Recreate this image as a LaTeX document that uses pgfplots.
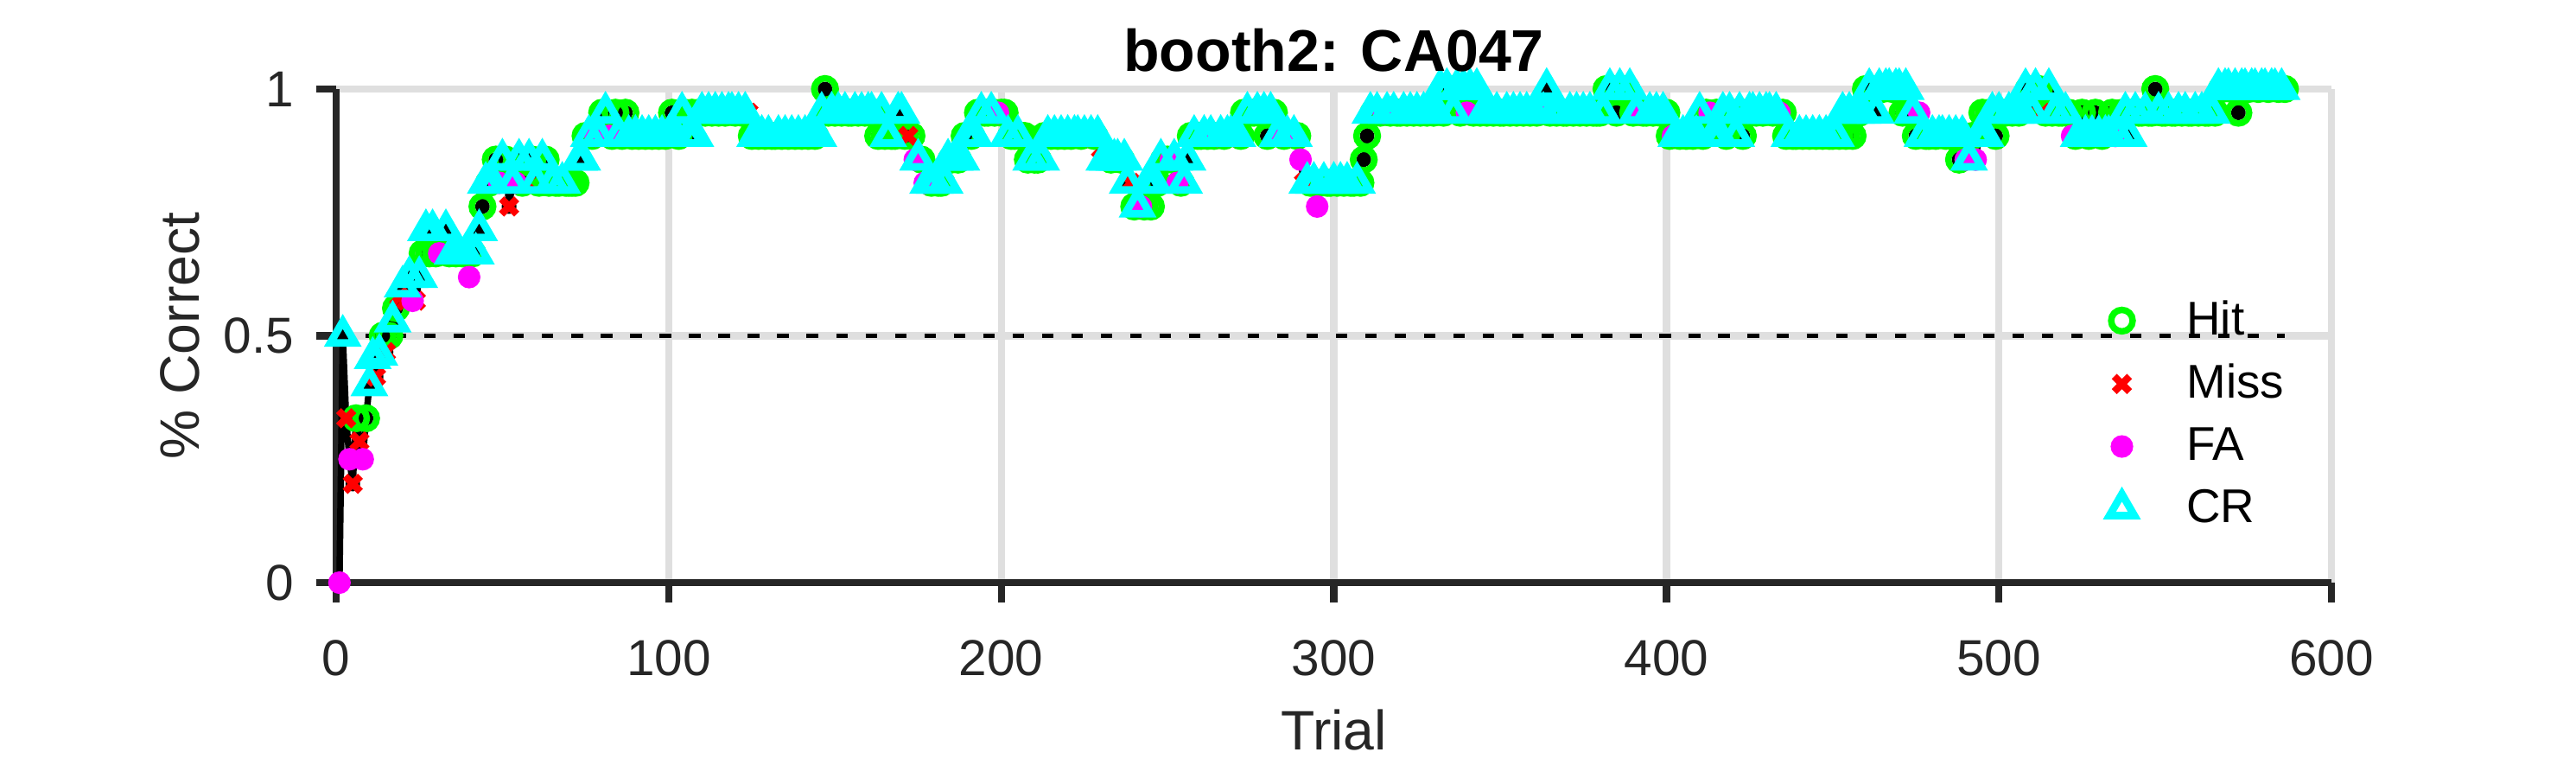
\documentclass[border=0pt]{standalone}
\usepackage{fontspec}
\setmainfont{Liberation Sans}
\usepackage{pgfplots}
\pgfplotsset{compat=1.18}
\usepackage{pgfplotstable}
\definecolor{axgray}{HTML}{262626}
\definecolor{gridgray}{HTML}{DFDFDF}
\definecolor{hitc}{rgb}{0,1,0}
\definecolor{missc}{rgb}{1,0,0}
\definecolor{fac}{rgb}{1,0,1}
\definecolor{crc}{rgb}{0,1,1}
% t: 0 = Hit, 1 = Miss, 2 = FA, 3 = CR
\pgfplotstableread[row sep=\\]{
x y t\\
1 0 2\\ 2 0.5 3\\ 3 0.333 1\\ 4 0.25 2\\ 5 0.2 1\\ 6 0.333 0\\ 7 0.286 1\\ 8 0.25 2\\ 9 0.333 0\\ 10 0.4 3\\
11 0.455 3\\ 12 0.417 1\\ 13 0.462 3\\ 14 0.5 0\\ 15 0.467 1\\ 16 0.5 0\\ 17 0.529 3\\ 18 0.556 0\\ 19 0.579 1\\ 20 0.6 3\\
21 0.571 1\\ 22 0.619 3\\ 23 0.571 2\\ 24 0.571 1\\ 25 0.619 3\\ 26 0.667 0\\ 27 0.714 3\\ 28 0.667 0\\ 29 0.714 3\\ 30 0.667 0\\
31 0.667 2\\ 32 0.667 1\\ 33 0.714 3\\ 34 0.667 0\\ 35 0.667 3\\ 36 0.667 0\\ 37 0.667 3\\ 38 0.667 0\\ 39 0.667 3\\ 40 0.619 2\\
41 0.667 0\\ 42 0.667 3\\ 43 0.714 3\\ 44 0.762 0\\ 45 0.810 3\\ 46 0.810 0\\ 47 0.810 3\\ 48 0.857 0\\ 49 0.810 2\\ 50 0.857 3\\
51 0.857 0\\ 52 0.762 1\\ 53 0.810 3\\ 54 0.810 2\\ 55 0.857 3\\ 56 0.810 0\\ 57 0.810 1\\ 58 0.857 3\\ 59 0.857 0\\ 60 0.810 3\\
61 0.810 0\\ 62 0.857 3\\ 63 0.857 0\\ 64 0.810 0\\ 65 0.810 3\\ 66 0.810 0\\ 67 0.810 0\\ 68 0.810 3\\ 69 0.810 0\\ 70 0.810 0\\
71 0.810 0\\ 72 0.810 0\\ 73 0.857 3\\ 74 0.857 3\\ 75 0.905 0\\ 76 0.905 3\\ 77 0.905 0\\ 78 0.905 2\\ 79 0.905 3\\ 80 0.952 0\\
81 0.952 3\\ 82 0.905 2\\ 83 0.905 0\\ 84 0.952 0\\ 85 0.905 3\\ 86 0.905 0\\ 87 0.952 0\\ 88 0.905 3\\ 89 0.905 0\\ 90 0.905 3\\
91 0.905 0\\ 92 0.905 3\\ 93 0.905 0\\ 94 0.905 3\\ 95 0.905 0\\ 96 0.905 3\\ 97 0.905 0\\ 98 0.905 3\\ 99 0.905 0\\ 100 0.905 3\\
101 0.952 0\\ 102 0.905 3\\ 103 0.905 0\\ 104 0.952 3\\ 105 0.952 0\\ 106 0.905 3\\ 107 0.952 0\\ 108 0.905 3\\ 109 0.952 0\\ 110 0.952 3\\
111 0.952 0\\ 112 0.952 3\\ 113 0.952 0\\ 114 0.952 3\\ 115 0.952 0\\ 116 0.952 3\\ 117 0.952 0\\ 118 0.952 3\\ 119 0.952 3\\ 120 0.952 0\\
121 0.952 3\\ 122 0.952 0\\ 123 0.952 3\\ 124 0.952 1\\ 125 0.905 0\\ 126 0.905 3\\ 127 0.905 0\\ 128 0.905 3\\ 129 0.905 0\\ 130 0.905 3\\
131 0.905 0\\ 132 0.905 0\\ 133 0.905 3\\ 134 0.905 0\\ 135 0.905 3\\ 136 0.905 0\\ 137 0.905 3\\ 138 0.905 0\\ 139 0.905 3\\ 140 0.905 0\\
141 0.905 3\\ 142 0.905 0\\ 143 0.905 3\\ 144 0.905 0\\ 145 0.905 3\\ 146 0.952 3\\ 147 1 0\\ 148 0.952 0\\ 149 0.952 3\\ 150 0.952 0\\
151 0.952 3\\ 152 0.952 0\\ 153 0.952 3\\ 154 0.952 0\\ 155 0.952 0\\ 156 0.952 3\\ 157 0.952 0\\ 158 0.952 3\\ 159 0.952 0\\ 160 0.952 3\\
161 0.952 3\\ 162 0.952 0\\ 163 0.905 0\\ 164 0.952 3\\ 165 0.905 0\\ 166 0.905 3\\ 167 0.905 0\\ 168 0.905 0\\ 169 0.952 3\\ 170 0.952 3\\
171 0.905 0\\ 172 0.905 1\\ 173 0.905 0\\ 174 0.857 2\\ 175 0.857 3\\ 176 0.857 0\\ 177 0.810 2\\ 178 0.810 3\\ 179 0.810 0\\ 180 0.810 3\\
181 0.810 0\\ 182 0.810 0\\ 183 0.810 3\\ 184 0.857 3\\ 185 0.857 0\\ 186 0.857 3\\ 187 0.857 0\\ 188 0.857 3\\ 189 0.905 0\\ 190 0.905 3\\
191 0.905 0\\ 192 0.905 3\\ 193 0.952 0\\ 194 0.952 3\\ 195 0.952 0\\ 196 0.952 0\\ 197 0.952 3\\ 198 0.952 0\\ 199 0.952 2\\ 200 0.952 0\\
201 0.952 0\\ 202 0.905 3\\ 203 0.905 0\\ 204 0.905 0\\ 205 0.905 3\\ 206 0.905 0\\ 207 0.905 0\\ 208 0.857 0\\ 209 0.857 3\\ 210 0.857 0\\
211 0.857 0\\ 212 0.857 3\\ 213 0.905 0\\ 214 0.905 3\\ 215 0.905 0\\ 216 0.905 3\\ 217 0.905 0\\ 218 0.905 3\\ 219 0.905 0\\ 220 0.905 3\\
221 0.905 0\\ 222 0.905 3\\ 223 0.905 3\\ 224 0.905 0\\ 225 0.905 3\\ 226 0.905 2\\ 227 0.905 3\\ 228 0.905 0\\ 229 0.905 3\\ 230 0.857 1\\
231 0.857 3\\ 232 0.857 3\\ 233 0.857 0\\ 234 0.857 3\\ 235 0.857 3\\ 236 0.857 0\\ 237 0.857 3\\ 238 0.810 3\\ 239 0.810 1\\ 240 0.762 0\\
241 0.762 3\\ 242 0.762 2\\ 243 0.762 0\\ 244 0.810 3\\ 245 0.762 0\\ 246 0.810 3\\ 247 0.810 0\\ 248 0.857 3\\ 249 0.857 0\\ 250 0.857 0\\
251 0.857 2\\ 252 0.857 3\\ 253 0.810 2\\ 254 0.810 0\\ 255 0.810 3\\ 256 0.857 3\\ 257 0.905 0\\ 258 0.905 3\\ 259 0.905 0\\ 260 0.905 0\\
261 0.905 3\\ 262 0.905 0\\ 263 0.905 3\\ 264 0.905 0\\ 265 0.905 2\\ 266 0.905 3\\ 267 0.905 0\\ 268 0.905 3\\ 269 0.905 3\\ 270 0.905 2\\
271 0.905 3\\ 272 0.905 0\\ 273 0.952 0\\ 274 0.952 3\\ 275 0.952 0\\ 276 0.952 0\\ 277 0.952 3\\ 278 0.952 0\\ 279 0.952 3\\ 280 0.905 0\\
281 0.952 3\\ 282 0.952 0\\ 283 0.905 3\\ 284 0.905 2\\ 285 0.905 0\\ 286 0.905 3\\ 287 0.905 2\\ 288 0.905 3\\ 289 0.905 0\\ 290 0.857 2\\
291 0.810 1\\ 292 0.810 3\\ 293 0.810 0\\ 294 0.810 3\\ 295 0.762 2\\ 296 0.810 0\\ 297 0.810 3\\ 298 0.810 0\\ 299 0.810 0\\ 300 0.810 3\\
301 0.810 0\\ 302 0.810 3\\ 303 0.810 0\\ 304 0.810 3\\ 305 0.810 0\\ 306 0.810 0\\ 307 0.810 3\\ 308 0.810 0\\ 309 0.857 0\\ 310 0.905 0\\
311 0.952 3\\ 312 0.952 0\\ 313 0.952 3\\ 314 0.952 0\\ 315 0.952 2\\ 316 0.952 3\\ 317 0.952 0\\ 318 0.952 3\\ 319 0.952 0\\ 320 0.952 0\\
321 0.952 3\\ 322 0.952 0\\ 323 0.952 3\\ 324 0.952 0\\ 325 0.952 3\\ 326 0.952 0\\ 327 0.952 3\\ 328 0.952 0\\ 329 0.952 3\\ 330 0.952 0\\
331 0.952 3\\ 332 1 3\\ 333 0.952 0\\ 334 1 3\\ 335 1 0\\ 336 0.952 3\\ 337 1 3\\ 338 0.952 0\\ 339 1 3\\ 340 0.952 2\\
341 1 3\\ 342 0.952 0\\ 343 1 3\\ 344 0.952 0\\ 345 0.952 3\\ 346 0.952 0\\ 347 0.952 3\\ 348 0.952 0\\ 349 0.952 3\\ 350 0.952 0\\
351 0.952 0\\ 352 0.952 3\\ 353 0.952 0\\ 354 0.952 3\\ 355 0.952 0\\ 356 0.952 3\\ 357 0.952 0\\ 358 0.952 3\\ 359 0.952 0\\ 360 0.952 3\\
361 0.952 0\\ 362 0.952 2\\ 363 0.952 3\\ 364 1 3\\ 365 0.952 0\\ 366 0.952 3\\ 367 0.952 0\\ 368 0.952 3\\ 369 0.952 0\\ 370 0.952 0\\
371 0.952 3\\ 372 0.952 0\\ 373 0.952 3\\ 374 0.952 0\\ 375 0.952 3\\ 376 0.952 0\\ 377 0.952 3\\ 378 0.952 0\\ 379 0.952 0\\ 380 0.952 0\\
381 0.952 3\\ 382 1 0\\ 383 1 3\\ 384 1 0\\ 385 0.952 0\\ 386 1 3\\ 387 1 0\\ 388 1 0\\ 389 1 3\\ 390 0.952 0\\
391 0.952 3\\ 392 0.952 2\\ 393 0.952 0\\ 394 0.952 0\\ 395 0.952 3\\ 396 0.952 0\\ 397 0.952 3\\ 398 0.952 0\\ 399 0.952 3\\ 400 0.952 0\\
401 0.905 0\\ 402 0.905 2\\ 403 0.905 3\\ 404 0.905 0\\ 405 0.905 3\\ 406 0.905 0\\ 407 0.905 3\\ 408 0.905 0\\ 409 0.905 3\\ 410 0.952 3\\
411 0.905 0\\ 412 0.952 0\\ 413 0.952 2\\ 414 0.905 3\\ 415 0.952 0\\ 416 0.905 3\\ 417 0.952 3\\ 418 0.905 0\\ 419 0.952 3\\ 420 0.952 0\\
421 0.905 3\\ 422 0.952 3\\ 423 0.905 0\\ 424 0.952 0\\ 425 0.952 3\\ 426 0.952 3\\ 427 0.952 0\\ 428 0.952 3\\ 429 0.952 0\\ 430 0.952 3\\
431 0.952 3\\ 432 0.952 0\\ 433 0.952 3\\ 434 0.952 2\\ 435 0.952 0\\ 436 0.905 0\\ 437 0.905 3\\ 438 0.905 0\\ 439 0.905 0\\ 440 0.905 3\\
441 0.905 0\\ 442 0.905 3\\ 443 0.905 0\\ 444 0.905 3\\ 445 0.905 0\\ 446 0.905 3\\ 447 0.905 0\\ 448 0.905 3\\ 449 0.905 0\\ 450 0.905 0\\
451 0.905 3\\ 452 0.905 0\\ 453 0.952 3\\ 454 0.905 0\\ 455 0.952 3\\ 456 0.905 0\\ 457 0.952 3\\ 458 0.952 0\\ 459 0.952 3\\ 460 1 0\\
461 1 3\\ 462 1 0\\ 463 0.952 3\\ 464 1 3\\ 465 1 0\\ 466 1 3\\ 467 1 3\\ 468 1 0\\ 469 1 3\\ 470 1 3\\
471 0.952 0\\ 472 1 3\\ 473 0.952 0\\ 474 0.952 3\\ 475 0.905 0\\ 476 0.952 2\\ 477 0.905 3\\ 478 0.905 0\\ 479 0.905 0\\ 480 0.905 3\\
481 0.905 0\\ 482 0.905 3\\ 483 0.905 3\\ 484 0.905 0\\ 485 0.905 3\\ 486 0.905 0\\ 487 0.905 3\\ 488 0.857 0\\ 489 0.905 3\\ 490 0.857 2\\
491 0.857 3\\ 492 0.905 0\\ 493 0.857 2\\ 494 0.905 3\\ 495 0.952 0\\ 496 0.905 3\\ 497 0.952 0\\ 498 0.952 3\\ 499 0.905 0\\ 500 0.952 3\\
501 0.952 0\\ 502 0.952 0\\ 503 0.952 3\\ 504 0.952 0\\ 505 0.952 3\\ 506 0.952 0\\ 507 0.952 3\\ 508 1 3\\ 509 1 0\\ 510 0.952 3\\
511 1 3\\ 512 1 0\\ 513 0.952 1\\ 514 0.952 0\\ 515 1 3\\ 516 0.952 0\\ 517 0.952 3\\ 518 0.952 0\\ 519 0.952 0\\ 520 0.952 3\\
521 0.952 0\\ 522 0.905 2\\ 523 0.905 0\\ 524 0.905 3\\ 525 0.952 0\\ 526 0.905 3\\ 527 0.905 0\\ 528 0.905 3\\ 529 0.952 0\\ 530 0.905 3\\
531 0.905 0\\ 532 0.905 3\\ 533 0.905 3\\ 534 0.952 0\\ 535 0.905 2\\ 536 0.905 3\\ 537 0.952 0\\ 538 0.952 3\\ 539 0.905 3\\ 540 0.952 0\\
541 0.952 3\\ 542 0.952 0\\ 543 0.952 0\\ 544 0.952 3\\ 545 0.952 0\\ 546 0.952 0\\ 547 1 0\\ 548 0.952 3\\ 549 0.952 0\\ 550 0.952 0\\
551 0.952 3\\ 552 0.952 0\\ 553 0.952 0\\ 554 0.952 3\\ 555 0.952 0\\ 556 0.952 3\\ 557 0.952 0\\ 558 0.952 0\\ 559 0.952 3\\ 560 0.952 0\\
561 0.952 3\\ 562 0.952 0\\ 563 0.952 0\\ 564 0.952 3\\ 565 0.952 0\\ 566 1 3\\ 567 1 0\\ 568 1 3\\ 569 1 3\\ 570 1 0\\
571 1 3\\ 572 0.952 0\\ 573 1 3\\ 574 1 3\\ 575 1 0\\ 576 1 3\\ 577 1 3\\ 578 1 0\\ 579 1 3\\ 580 1 3\\
581 1 0\\ 582 1 3\\ 583 1 3\\ 584 1 0\\ 585 1 3\\ 586 1 0\\
}\trials

\begin{document}
\begin{tikzpicture}
\useasboundingbox (-93.73pt,-50.6pt) rectangle (624.57pt,162.42pt);
\begin{axis}[
  at={(0,0)}, anchor=south west,
  width=556.4pt, height=137.6pt, scale only axis,
  xmin=0, xmax=600, ymin=0, ymax=1,
  axis lines*=left,
  axis line style={line width=2pt, axgray},
  xtick={0,100,200,300,400,500,600},
  ytick={0,0.5,1},
  yticklabels={0,0.5,1},
  tick align=outside,
  major tick length=5.6pt,
  tick style={line width=2pt, axgray},
  grid=major,
  major grid style={line width=2pt, gridgray},
  /pgf/number format/assume math mode=true,
  tick label style={font=\fontsize{14.1}{16}\selectfont, text=axgray},
  xticklabel style={anchor=base, inner sep=0pt, yshift=-20.2pt},
  yticklabel style={anchor=east, inner sep=0pt, xshift=-6pt},
  clip=false,
  title={booth2: CA047},
  title style={at={(axis description cs:0.5,0.992)}, anchor=base, inner sep=0pt, font=\bfseries\fontsize{16.4}{19}\selectfont, text=black},
  xlabel={Trial},
  ylabel={\% Correct},
  xlabel style={at={(axis description cs:0.5,-0.3394)}, anchor=base, inner sep=0pt, font=\fontsize{15.5}{18}\selectfont, text=axgray},
  ylabel style={at={(axis description cs:-0.0688,0.5)}, anchor=base, inner sep=0pt, font=\fontsize{15.5}{18}\selectfont, text=axgray},
  legend style={at={(axis cs:527,0.587)}, anchor=north west, draw=none, fill=none, inner sep=0pt,
    font=\fontsize{13.2}{15}\selectfont, text=black, row sep=2.6pt},
  legend cell align=left,
  legend image code/.code={\draw[#1] plot coordinates {(8pt,0pt)}; \path (0pt,0pt) (23pt,0pt);},
]
\addplot[black, line width=1.8pt, line join=round, mark=*, mark size=1.2pt, forget plot] table[x=x, y=y] {\trials};
\addplot[black, line width=1.35pt, dash pattern=on 3.2pt off 5pt, forget plot] coordinates {(0,0.5) (586,0.5)};
\addplot[only marks, mark=o, mark size=3pt, hitc, line width=1.8pt,
  restrict expr to domain={\thisrow{t}}{-0.5:0.5}] table[x=x, y=y] {\trials};
\addlegendentry{Hit}
\addplot[only marks, mark=x, mark size=3pt, missc, line width=2pt,
  restrict expr to domain={\thisrow{t}}{0.5:1.5}] table[x=x, y=y] {\trials};
\addlegendentry{Miss}
\addplot[only marks, mark=*, mark size=3pt, draw=fac, fill=fac, line width=0.3pt,
  restrict expr to domain={\thisrow{t}}{1.5:2.5}] table[x=x, y=y] {\trials};
\addlegendentry{FA}
\addplot[only marks, mark=triangle, mark size=4pt, crc, line width=2.1pt,
  restrict expr to domain={\thisrow{t}}{2.5:3.5}] table[x=x, y=y] {\trials};
\addlegendentry{CR}
\end{axis}
\end{tikzpicture}
\end{document}
